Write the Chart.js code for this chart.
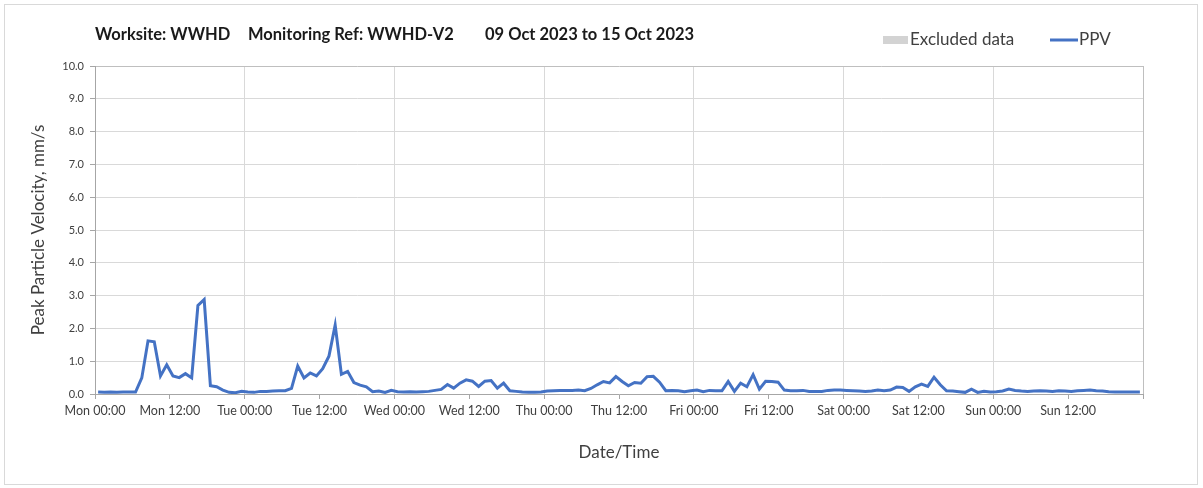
<!DOCTYPE html>
<html>

<head>
    <title>PPV - WWHD-V2</title>
    <script src="https://cdn.jsdelivr.net/npm/chart.js@4.4.1/dist/chart.umd.min.js"></script>
    <style>
        body { margin: 0; background: #fff; }
        #wrap { position: relative; width: 1203px; height: 488px; }
        #frame { position: absolute; left: 4px; top: 4px; width: 1192px; height: 479px; border: 1px solid #d9d9d9; pointer-events: none; }
    </style>
</head>

<body>
    <div id="wrap">
        <canvas id="myChart" width="1203" height="488"></canvas>
        <div id="frame"></div>
    </div>

    <script>
        // Header texts
        var titleParts = ['Worksite: WWHD', 'Monitoring Ref: WWHD-V2', '09 Oct 2023 to 15 Oct 2023'];
        var legendLabels = ['Excluded data', 'PPV'];

        // x axis: hours since Mon 09 Oct 00:00, labels every 12 h
        var dayNames = ['Mon', 'Tue', 'Wed', 'Thu', 'Fri', 'Sat', 'Sun'];
        var halfDayLabels = ['00:00', '12:00'];

        // Hourly peak particle velocity (mm/s), one value per hour, plotted mid-hour
        var ppv = [
            0.06, 0.05, 0.06, 0.05, 0.06, 0.06, 0.06, 0.49, 1.62, 1.59, 0.55, 0.89,
            0.55, 0.50, 0.62, 0.49, 2.70, 2.88, 0.25, 0.22, 0.12, 0.05, 0.04, 0.08,
            0.06, 0.05, 0.08, 0.08, 0.09, 0.10, 0.10, 0.17, 0.85, 0.49, 0.64, 0.55,
            0.77, 1.15, 2.10, 0.60, 0.69, 0.35, 0.27, 0.22, 0.07, 0.09, 0.05, 0.11,
            0.07, 0.06, 0.07, 0.06, 0.07, 0.08, 0.11, 0.14, 0.29, 0.18, 0.33, 0.43,
            0.39, 0.23, 0.39, 0.41, 0.18, 0.33, 0.10, 0.08, 0.06, 0.05, 0.05, 0.06,
            0.09, 0.10, 0.11, 0.11, 0.11, 0.12, 0.10, 0.17, 0.28, 0.38, 0.34, 0.53,
            0.38, 0.25, 0.35, 0.33, 0.53, 0.54, 0.36, 0.10, 0.11, 0.10, 0.07, 0.10,
            0.12, 0.07, 0.11, 0.10, 0.10, 0.38, 0.08, 0.33, 0.22, 0.59, 0.15, 0.39,
            0.38, 0.36, 0.12, 0.10, 0.10, 0.11, 0.08, 0.08, 0.08, 0.11, 0.12, 0.12,
            0.11, 0.10, 0.09, 0.08, 0.09, 0.12, 0.10, 0.12, 0.21, 0.20, 0.08, 0.22,
            0.30, 0.23, 0.51, 0.28, 0.10, 0.09, 0.07, 0.05, 0.15, 0.05, 0.08, 0.06,
            0.07, 0.09, 0.15, 0.11, 0.09, 0.08, 0.09, 0.10, 0.09, 0.08, 0.10, 0.09,
            0.08, 0.10, 0.11, 0.12, 0.10, 0.09, 0.07, 0.06, 0.06, 0.06, 0.06, 0.06
        ];

        var points = ppv.map(function (v, i) { return { x: i + 0.5, y: v }; });

        var font = 'Lato, "Open Sans", sans-serif';

        // draws the header line (title + legend) at fixed spots
        var headerPlugin = {
            id: 'header',
            afterDraw: function (chart) {
                var ctx = chart.ctx;
                ctx.save();
                ctx.textBaseline = 'middle';
                ctx.fillStyle = '#1a1a1a';
                ctx.font = 'bold 16.5px ' + font;
                ctx.fillText(titleParts[0], 95, 35);
                ctx.fillText(titleParts[1], 248, 35);
                ctx.fillText(titleParts[2], 485, 35);

                ctx.font = '17px ' + font;
                ctx.fillStyle = '#d3d3d3';
                ctx.fillRect(883, 36, 25, 8);
                ctx.fillStyle = '#404040';
                ctx.fillText(legendLabels[0], 910, 40);

                ctx.strokeStyle = '#4472C4';
                ctx.lineWidth = 3;
                ctx.beginPath();
                ctx.moveTo(1050, 40);
                ctx.lineTo(1078, 40);
                ctx.stroke();
                ctx.fillText(legendLabels[1], 1079, 40);
                ctx.restore();
            }
        };

        var ctx = document.getElementById('myChart');

        new Chart(ctx, {
            type: 'line',
            data: {
                datasets: [{
                    label: 'PPV',
                    data: points,
                    borderColor: '#4472C4',
                    borderWidth: 3,
                    pointRadius: 0,
                    tension: 0,
                    fill: false
                }]
            },
            options: {
                responsive: false,
                animation: false,
                layout: { padding: { top: 66, right: 60, left: 0, bottom: 0 } },
                plugins: {
                    legend: { display: false },
                    title: { display: false },
                    tooltip: { enabled: false }
                },
                scales: {
                    x: {
                        type: 'linear',
                        min: 0,
                        max: 168,
                        afterFit: function (scale) { scale.height = 94; },
                        ticks: {
                            stepSize: 12,
                            autoSkip: false,
                            maxRotation: 0,
                            padding: 4,
                            color: '#404040',
                            font: { family: font, size: 12.5 },
                            callback: function (value) {
                                if (value >= 168) return '';
                                return dayNames[Math.floor(value / 24)] + ' ' + halfDayLabels[(value % 24) / 12];
                            }
                        },
                        grid: {
                            color: function (c) {
                                if (c.tick && c.tick.value === 168) return '#bfbfbf';
                                return c.tick && c.tick.value % 24 === 0 ? '#d9d9d9' : 'rgba(0,0,0,0)';
                            },
                            tickColor: '#a6a6a6',
                            tickLength: 5,
                            lineWidth: 1
                        },
                        border: { color: '#a6a6a6', width: 1 },
                        title: {
                            display: true,
                            text: 'Date/Time',
                            color: '#404040',
                            font: { family: font, size: 17 },
                            padding: { top: 25, bottom: 25 }
                        }
                    },
                    y: {
                        min: 0,
                        max: 10,
                        afterFit: function (scale) { scale.width = 95; },
                        ticks: {
                            stepSize: 1,
                            padding: 6,
                            color: '#404040',
                            font: { family: font, size: 11 },
                            callback: function (value) { return value.toFixed(1); }
                        },
                        grid: {
                            color: function (c) {
                                return c.tick && c.tick.value === 10 ? '#bfbfbf' : '#d9d9d9';
                            },
                            tickColor: '#a6a6a6',
                            tickLength: 5
                        },
                        border: { color: '#a6a6a6', width: 1 },
                        title: {
                            display: true,
                            text: 'Peak Particle Velocity, mm/s',
                            color: '#404040',
                            font: { family: font, size: 17 },
                            padding: { top: 28, bottom: 28 }
                        }
                    }
                }
            },
            plugins: [headerPlugin]
        });
    </script>
</body>

</html>
